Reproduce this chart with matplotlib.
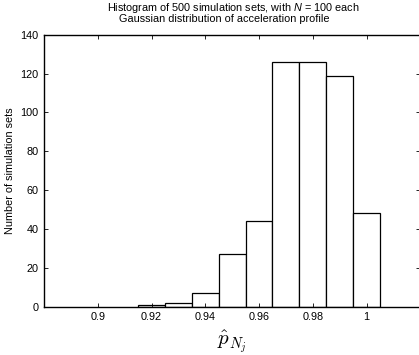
import matplotlib
matplotlib.use("Agg")
import matplotlib.pyplot as plt

bin_centers = [0.92, 0.93, 0.94, 0.95, 0.96, 0.97, 0.98, 0.99, 1.00]
counts = [1, 2, 7, 27, 44, 126, 126, 119, 48]
xticks = [0.9, 0.92, 0.94, 0.96, 0.98, 1.0]
xtick_labels = ["0.9", "0.92", "0.94", "0.96", "0.98", "1"]
yticks = [0, 20, 40, 60, 80, 100, 120, 140]

plt.rcParams['font.family'] = ['Liberation Sans', 'DejaVu Sans']
plt.rcParams['mathtext.fontset'] = 'cm'
plt.rcParams['mathtext.it'] = 'Liberation Sans:italic'
plt.rcParams['mathtext.rm'] = 'Liberation Sans'

W, H = 419, 355
fig = plt.figure(figsize=(W / 100, H / 100), dpi=100)
left, right, top, bottom = 44, 420.3, 34.7, 306.7
ax = fig.add_axes([left / W, 1 - bottom / H, (right - left) / W, (bottom - top) / H])

ax.bar(bin_centers, counts, width=0.01, facecolor='white', edgecolor='black', linewidth=0.9)
ax.set_xlim(0.88, 1.02)
ax.set_ylim(0, 140)
ax.set_xticks(xticks)
ax.set_xticklabels(xtick_labels)
ax.set_yticks(yticks)
ax.tick_params(direction='in', length=3, width=0.6, top=True, right=True, labelsize=7.8, pad=4)
for s in ax.spines.values():
    s.set_linewidth(1.0)

ax.set_ylabel("Number of simulation sets", fontsize=7.8, labelpad=2)
ax.yaxis.set_label_coords((15 - left) / (right - left), 0.5)
ax.set_xlabel(r"$\hat{p}_{N_j}$", fontsize=15, labelpad=4)

fig.text(233 / W, 1 - 8 / H, r"Histogram of 500 simulation sets, with $N$ = 100 each",
         ha='center', va='center', fontsize=7.8, math_fontfamily='custom')
fig.text(224 / W, 1 - 19.5 / H, "Gaussian distribution of acceleration profile",
         ha='center', va='center', fontsize=7.8)

fig.savefig("out.png", dpi=100)
